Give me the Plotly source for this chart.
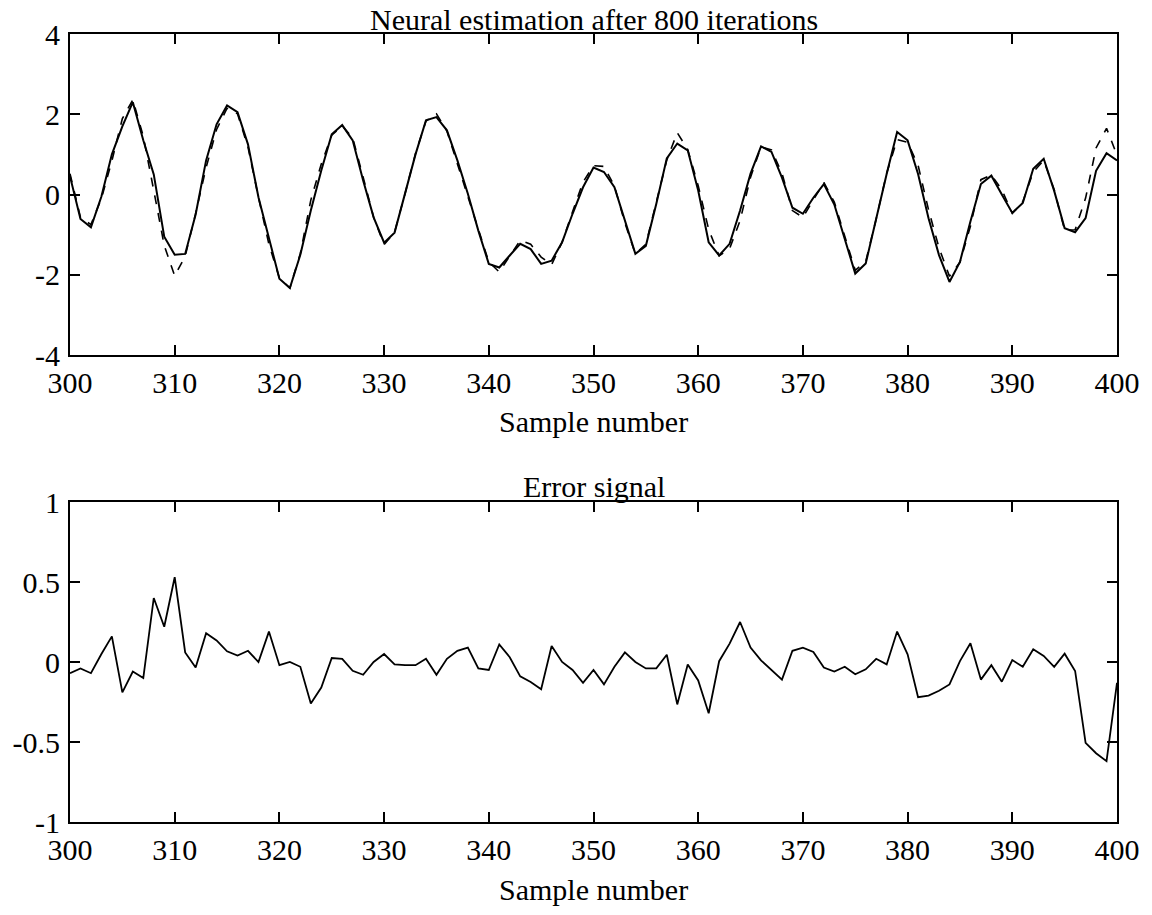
import plotly.graph_objects as go

samples = list(range(300, 401))

actual = [
    0.45, -0.61, -0.82, -0.05, 1.00, 1.70, 2.30, 1.35, 0.50, -1.05,
    -1.50, -1.48, -0.50, 0.85, 1.75, 2.22, 2.05, 1.25, -0.07, -1.05,
    -2.10, -2.33, -1.50, -0.40, 0.60, 1.50, 1.73, 1.35, 0.35, -0.57,
    -1.20, -0.95, 0.00, 1.00, 1.85, 1.93, 1.60, 0.85, 0.02, -0.90,
    -1.73, -1.82, -1.52, -1.23, -1.36, -1.73, -1.65, -1.19, -0.48, 0.18,
    0.67, 0.56, 0.18, -0.65, -1.48, -1.28, -0.23, 0.90, 1.27, 1.10,
    0.10, -1.19, -1.52, -1.23, -0.40, 0.52, 1.20, 1.06, 0.42, -0.33,
    -0.48, -0.08, 0.26, -0.25, -1.09, -1.97, -1.72, -0.59, 0.51, 1.56,
    1.35, 0.51, -0.59, -1.51, -2.18, -1.68, -0.67, 0.26, 0.47, 0.00,
    -0.46, -0.21, 0.64, 0.89, 0.09, -0.84, -0.94, -0.59, 0.59, 1.03,
    0.85,
]

# Dashed curve (neural estimation)
estimate = [
    0.52, -0.57, -0.75, -0.10, 0.84, 1.89, 2.36, 1.45, 0.10, -1.27,
    -2.03, -1.54, -0.47, 0.67, 1.62, 2.15, 2.01, 1.18, -0.07, -1.24,
    -2.08, -2.33, -1.47, -0.14, 0.76, 1.48, 1.71, 1.41, 0.43, -0.57,
    -1.25, -0.94, 0.02, 1.02, 1.83, 2.01, 1.58, 0.78, -0.07, -0.86,
    -1.68, -1.93, -1.55, -1.14, -1.24, -1.56, -1.75, -1.19, -0.43, 0.31,
    0.72, 0.70, 0.21, -0.71, -1.48, -1.24, -0.19, 0.86, 1.54, 1.12,
    0.22, -0.87, -1.53, -1.35, -0.65, 0.43, 1.19, 1.11, 0.53, -0.40,
    -0.57, -0.14, 0.30, -0.19, -1.06, -1.89, -1.67, -0.61, 0.53, 1.37,
    1.30, 0.73, -0.38, -1.33, -2.04, -1.69, -0.79, 0.37, 0.49, 0.12,
    -0.47, -0.18, 0.56, 0.85, 0.12, -0.89, -0.88, -0.09, 1.16, 1.65,
    0.98,
]

# Error signal
error = [
    -0.07, -0.04, -0.07, 0.05, 0.16, -0.19, -0.06, -0.10, 0.40, 0.22,
    0.53, 0.06, -0.035, 0.18, 0.135, 0.067, 0.04, 0.07, 0.00, 0.19,
    -0.02, 0.00, -0.03, -0.26, -0.16, 0.025, 0.02, -0.055, -0.08, 0.00,
    0.05, -0.015, -0.02, -0.02, 0.02, -0.08, 0.02, 0.07, 0.09, -0.04,
    -0.05, 0.11, 0.03, -0.09, -0.125, -0.17, 0.10, 0.00, -0.05, -0.13,
    -0.05, -0.14, -0.03, 0.06, 0.00, -0.04, -0.04, 0.045, -0.265, -0.015,
    -0.115, -0.32, 0.005, 0.115, 0.25, 0.09, 0.01, -0.05, -0.11, 0.07,
    0.09, 0.063, -0.035, -0.06, -0.03, -0.077, -0.046, 0.02, -0.015, 0.19,
    0.048, -0.22, -0.21, -0.18, -0.14, 0.006, 0.117, -0.11, -0.02, -0.123,
    0.012, -0.03, 0.08, 0.038, -0.03, 0.052, -0.056, -0.505, -0.57, -0.62,
    -0.13,
]

x_ticks = [300, 310, 320, 330, 340, 350, 360, 370, 380, 390, 400]
x_tick_text = [str(v) for v in x_ticks]
top_y_ticks = [-4, -2, 0, 2, 4]
top_y_text = ["-4", "-2", "0", "2", "4"]
bot_y_ticks = [-1, -0.5, 0, 0.5, 1]
bot_y_text = ["-1", "-0.5", "0", "0.5", "1"]

top_title = "Neural estimation after 800 iterations"
bot_title = "Error signal"
x_label = "Sample number"

FONT = "Liberation Serif, Times New Roman, serif"
FS = 30

fig = go.Figure()
fig.add_trace(go.Scatter(x=samples, y=estimate, mode="lines",
                         line=dict(color="black", width=1.6, dash="dash"),
                         xaxis="x", yaxis="y", showlegend=False))
fig.add_trace(go.Scatter(x=samples, y=actual, mode="lines",
                         line=dict(color="black", width=2),
                         xaxis="x", yaxis="y", showlegend=False))
fig.add_trace(go.Scatter(x=samples, y=error, mode="lines",
                         line=dict(color="black", width=1.8),
                         xaxis="x2", yaxis="y2", showlegend=False))

axis_common = dict(
    showline=True, linecolor="black", linewidth=2, mirror="ticks",
    ticks="inside", ticklen=10, tickwidth=1.5, tickcolor="black",
    showgrid=False, zeroline=False,
    tickfont=dict(family=FONT, size=FS, color="black"),
)

H = 915
t, b = 34, 93
plot_h = H - t - b
def py(pix):
    return (H - b - pix) / plot_h

fig.update_layout(
    width=1152, height=915,
    margin=dict(l=67, r=31, t=t, b=b),
    paper_bgcolor="white", plot_bgcolor="white",
    font=dict(family=FONT, size=FS, color="black"),
    xaxis=dict(domain=[0, 1], range=[300, 400], tickvals=x_ticks, ticktext=x_tick_text,
               anchor="y", ticklabelstandoff=0, **axis_common),
    yaxis=dict(domain=[py(355), 1], range=[-4, 4], tickvals=top_y_ticks, ticktext=top_y_text,
               anchor="x", ticklabelstandoff=2, **axis_common),
    xaxis2=dict(domain=[0, 1], range=[300, 400], tickvals=x_ticks, ticktext=x_tick_text,
                anchor="y2", ticklabelstandoff=0, **axis_common),
    yaxis2=dict(domain=[0, py(502)], range=[-1, 1], tickvals=bot_y_ticks, ticktext=bot_y_text,
                anchor="x2", ticklabelstandoff=2, **axis_common),
)

ann_font = dict(family=FONT, size=FS, color="black")
fig.add_annotation(text=top_title, xref="paper", yref="paper", x=0.5, y=1,
                   xanchor="center", yanchor="bottom", yshift=-4.5, showarrow=False, font=ann_font)
fig.add_annotation(text=bot_title, xref="paper", yref="paper", x=0.5, y=py(502),
                   xanchor="center", yanchor="bottom", yshift=-2.5, showarrow=False, font=ann_font)
fig.add_annotation(text=x_label, xref="paper", yref="paper", x=0.5, y=py(440.5),
                   xanchor="center", yanchor="bottom", showarrow=False, font=ann_font)
fig.add_annotation(text=x_label, xref="paper", yref="paper", x=0.5, y=py(907.5),
                   xanchor="center", yanchor="bottom", showarrow=False, font=ann_font)

fig.write_html(
    "out.html",
    config={"displayModeBar": False},
    post_script="document.body.style.margin='0';document.body.style.overflow='hidden';",
)
